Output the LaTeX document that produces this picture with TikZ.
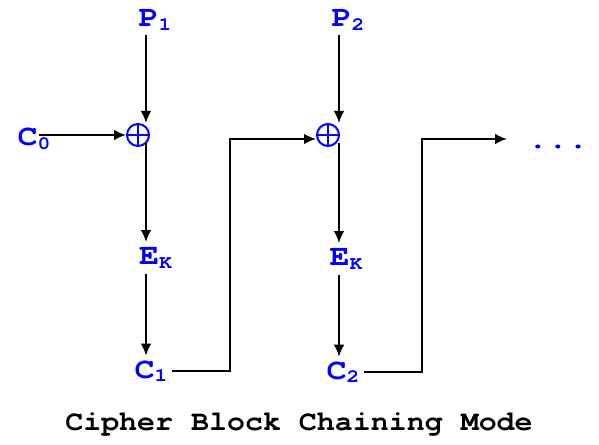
\documentclass[tikz,border=0pt]{standalone}
\usepackage{graphicx}
\usepackage{fontspec}
\usetikzlibrary{arrows.meta}

\newfontfamily\courbf{texgyrecursor-bold.otf}

% wide typewriter labels, with a lowered small index
\newcommand{\lab}[3][-2.5pt]{\scalebox{1.14}[1]{#2\raisebox{#1}{\fontsize{14}{14}\selectfont #3}}}

\begin{document}
\begin{tikzpicture}[x = 0.75pt, y = -0.75pt, > = {Latex[length = 9pt, width = 8pt]}, line width = 1.3pt,
	lbl/.style = {text = blue, font = \courbf\fontsize{22}{24}\selectfont, inner sep = 3pt, anchor = base},
	xor/.style = {circle, draw = blue, line width = 1.5pt, minimum size = 16.5pt, inner sep = 0pt,
		path picture = {\draw [blue, line width = 1.5pt] (path picture bounding box.north) -- (path picture bounding box.south)
			(path picture bounding box.west) -- (path picture bounding box.east);}}]
	\useasboundingbox (0, 0) rectangle (599, 445);
	
	% first block
	\node [lbl] (p1) at (155, 27) {\lab{P}{1}};
	\node [lbl] (c0) at (34, 146) {\lab{C}{0}};
	\node [xor] (x1) at (138, 135) {};
	\node [lbl] (e1) at (155.5, 264) {\lab[-3.5pt]{E}{K}};
	\node [lbl] (c1) at (151, 378) {\lab{C}{1}};
	\coordinate (col1) at (146, 0);
	
	\draw [->] (p1.south -| col1) -- (x1.north -| col1);
	\draw [->] ([xshift = -12pt]c0.east |- x1.west) -- (x1.west);
	\draw [->] (x1.south -| col1) ++(0, -4) -- (e1.north -| col1);
	\draw [->] (e1.south -| col1) -- (c1.north -| col1);
	
	% second block
	\node [lbl] (p2) at (348, 27) {\lab{P}{2}};
	\node [xor] (x2) at (328, 135) {};
	\node [lbl] (e2) at (346, 265) {\lab[-3.5pt]{E}{K}};
	\node [lbl] (c2) at (343, 379) {\lab{C}{2}};
	\coordinate (col2) at (339, 0);
	
	\draw [->] (p2.south -| col2) -- (x2.north -| col2);
	\draw [->] (x2.south -| col2) ++(0, -4) -- (e2.north -| col2);
	\draw [->] (e2.south -| col2) -- (c2.north -| col2);
	
	% chaining
	\coordinate (turn1) at (230, 139);
	\coordinate (turn2) at (422, 139);
	\coordinate (end2) at (507, 139);
	\draw [->] (c1.east) -| (turn1) -- (turn1 -| x2.west);
	\draw [->] (c2.east) -| (turn2) -- (end2);
	
	\node [lbl] (dots) at (558, 148.5) {\scalebox{1.14}[1]{...}};
	
	\node [font = \courbf\fontsize{21}{24}\selectfont, anchor = base] (title) at (299, 430)
		{\scalebox{1.07}[1]{Cipher Block Chaining Mode}};
\end{tikzpicture}
\end{document}
